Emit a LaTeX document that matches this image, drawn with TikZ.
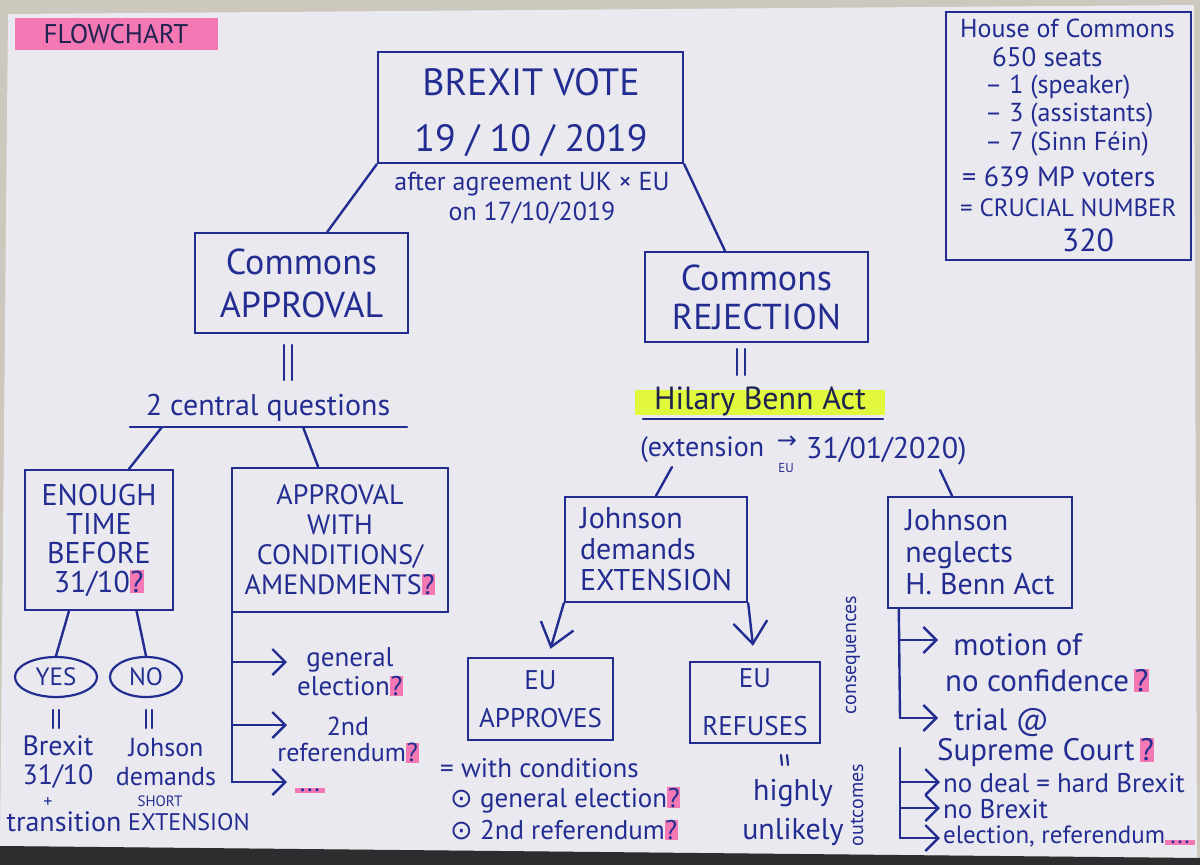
\documentclass[tikz,border=0pt]{standalone}
\usepackage{fontspec}
\setmainfont{PT Sans}
\newfontfamily\djv{DejaVu Sans}
\usetikzlibrary{calc,arrows.meta,shapes.geometric}
\definecolor{ink}{RGB}{35,45,145}
\definecolor{inkdark}{RGB}{30,35,80}
\definecolor{paper}{RGB}{234,233,239}
\definecolor{bggray}{RGB}{205,200,190}
\definecolor{darkband}{RGB}{45,45,48}
\definecolor{pinkhl}{RGB}{244,120,180}
\definecolor{limehl}{RGB}{225,248,60}
\newcommand{\myfs}[2]{\fontsize{#1}{#2}\selectfont}
\newcommand{\pq}{{\setlength{\fboxsep}{0.6pt}\colorbox{pinkhl}{?}}}
\newcommand{\pdots}{{\setlength{\fboxsep}{1pt}\colorbox{pinkhl}{\,...\,}}}
\begin{document}
\begin{tikzpicture}[x=1pt,y=-1pt,
  box/.style={draw=ink, line width=2.4pt, inner sep=0pt, align=center, text=ink},
  txt/.style={text=ink, inner sep=0pt, align=center},
  con/.style={draw=ink, line width=2.4pt, line cap=round},
  varr/.style={con, -{Straight Barb[length=13pt,width=26pt]}},
  bigv/.style={con, -{Straight Barb[length=22pt,width=34pt]}},
  tick/.style={draw=ink, line width=2.2pt, line cap=round}]
\useasboundingbox (0,0) rectangle (1200,865);
% background
\fill[bggray] (0,0) rectangle (1200,865);
\fill[paper] (8,14) -- (1194,5) -- (1197,858) -- (0,846) -- cycle;
\fill[darkband] (0,846) -- (1200,858) -- (1200,865) -- (0,865) -- cycle;

% title tag
\node[fill=pinkhl, text=inkdark, minimum width=203, minimum height=32, inner sep=0pt, font={\myfs{27}{28}}] (flow) at (116,34) {FLOWCHART};

% top box
\node[box, minimum width=305, minimum height=111] (vote) at (530.5,107.5) {};
\node[txt, font={\myfs{38}{56}}] (votetxt) at (531,113) {BREXIT VOTE\\19 / 10 / 2019};
\node[txt, font={\myfs{26}{30}}] (agree) at (532,198) {after agreement UK × EU\\on 17/10/2019};

% commons boxes
\node[box, minimum width=213, minimum height=100, font={\myfs{36}{43}}] (appr) at (301.5,283) {Commons\\APPROVAL};
\node[box, minimum width=223, minimum height=90, font={\myfs{36}{39}}] (rej) at (756.5,297) {Commons\\REJECTION};
\draw[con] (vote.south west) -- ($(appr.north west)!0.62!(appr.north east)$);
\draw[con] (vote.south east) -- ($(rej.north west)!0.36!(rej.north east)$);

\draw[tick] (284,345) -- (284,380); \draw[tick] (292,345) -- (292,380);
\draw[tick] (737,349) -- (737,375); \draw[tick] (745,349) -- (745,375);

% left branch
\node[txt, font={\myfs{30}{32}}] (cq) at (268,408) {2 central questions};
\draw[con] (130,427) -- (407,427);
\coordinate (cqL) at (162,427);
\coordinate (cqR) at (303,427);

\node[box, minimum width=148, minimum height=140, font={\myfs{30}{29}}] (enough) at (99,540) {ENOUGH\\TIME\\BEFORE\\31/10\pq};
\node[box, minimum width=216, minimum height=144, font={\myfs{28}{30}}] (apw) at (340,540) {APPROVAL\\WITH\\CONDITIONS/\\AMENDMENTS\pq};
\draw[con] (cqL) -- ($(enough.north west)!0.7!(enough.north east)$);
\draw[con] (cqR) -- ($(apw.north west)!0.4!(apw.north east)$);

\node[draw=ink, line width=2.2pt, ellipse, minimum width=82, minimum height=40, inner sep=0pt, text=ink, font={\myfs{25}{25}}] (yes) at (56,677) {YES};
\node[draw=ink, line width=2.2pt, ellipse, minimum width=72, minimum height=40, inner sep=0pt, text=ink, font={\myfs{25}{25}}] (no) at (146,677) {NO};
\draw[con] ($(enough.south west)!0.3!(enough.south east)$) -- (yes.north);
\draw[con] ($(enough.south west)!0.75!(enough.south east)$) -- (no.north);
\draw[tick] (53,710) -- (53,728); \draw[tick] (59,710) -- (59,728);
\draw[tick] (146,710) -- (146,728); \draw[tick] (152,710) -- (152,728);

\node[txt, font={\myfs{28}{29}}] (brx) at (58,762) {Brexit\\31/10};
\node[txt, font={\myfs{18}{18}}] (plus) at (48,802) {+};
\node[txt, font={\myfs{28}{28}}] (trans) at (64,822) {transition};
\node[txt, font={\myfs{26}{29}}] (joh) at (166,762) {Johson\\demands};
\node[txt, font={\myfs{15}{15}}] (short) at (160,801) {SHORT};
\node[txt, font={\myfs{24}{24}}] (ext1) at (189,822) {EXTENSION};

% approval with conditions branches
\coordinate (av0) at (232,612);
\coordinate (av1) at (232,662);
\coordinate (av2) at (232,725);
\coordinate (av3) at (232,782);
\coordinate (t1) at (287,662);
\coordinate (t2) at (287,725);
\coordinate (t3) at (287,782);
\draw[con] (av0) -- (av3);
\draw[varr] (av1) -- (t1);
\draw[varr] (av2) -- (t2);
\draw[varr] (av3) -- (t3);
\node[txt, font={\myfs{27}{29}}] (ge) at (350,672) {general\\election\pq};
\node[txt, font={\myfs{26}{26}}] (ref) at (348,740) {2nd\\referendum\pq};
\node[txt, font={\myfs{26}{26}}] (more) at (310,790) {\pdots};

% EU approves text
\node[txt, anchor=west, font={\myfs{27}{28}}] (wc) at (440,768) {= with conditions};
\node[txt, anchor=west, font={\myfs{27}{28}}] (o1) at (450,800) {{\djv ⊙} general election\pq};
\node[txt, anchor=west, font={\myfs{27}{28}}] (o2) at (450,830) {{\djv ⊙} 2nd referendum\pq};

% right branch
\fill[limehl] (635,390) rectangle (885,415);
\node[txt, text=inkdark, font={\myfs{32}{32}}] (hba) at (760,401) {Hilary Benn Act};
\draw[con] (643,419) -- (883,419);
\node[txt, anchor=west, font={\myfs{28}{28}}] (ex1) at (640,450) {(extension};
\node[txt, font={\myfs{24}{24}\djv}] (exarr) at (787,442) {→};
\node[txt, font={\myfs{13}{13}}] (exeu) at (786,468) {EU};
\node[txt, anchor=west, font={\myfs{30}{30}}] (ex2) at (806,451) {31/01/2020)};
\coordinate (exL) at (672,467);
\coordinate (exR) at (940,470);

\node[box, minimum width=182, minimum height=105, align=left, font={\myfs{30}{31}}] (dem) at (656,549.5) {Johnson\\demands\\EXTENSION};
\node[box, minimum width=184, minimum height=111, align=left, font={\myfs{30}{32}}] (neg) at (980,552.5) {Johnson\\neglects\\H. Benn Act};
\draw[con] (exL) -- (dem.north);
\draw[con] (exR) -- ($(neg.north west)!0.35!(neg.north east)$);

\node[box, minimum width=145, minimum height=82, font={\myfs{27}{38}}] (appv) at (540.5,699) {EU\\APPROVES};
\node[box, minimum width=130, minimum height=81, font={\myfs{27}{48}}] (refu) at (755,702.5) {EU\\REFUSES};
\draw[bigv] (dem.south west) -- ([xshift=10pt,yshift=8pt]appv.north);
\draw[bigv] (dem.south east) -- ([xshift=-2pt,yshift=15pt]refu.north);
\draw[tick] (781,755) -- (782,765); \draw[tick] (787,755) -- (788,765);
\node[txt, font={\myfs{30}{39}}] (hu) at (793,812) {highly\\unlikely};

% consequences
\coordinate (cs) at ($(neg.south west)+(12,0)$);
\coordinate (ce) at (900,718);
\coordinate (c1) at (900,640);
\coordinate (ct1) at (938,640);
\coordinate (ct2) at (938,718);
\draw[con] (cs) -- (ce);
\draw[varr] (c1) -- (ct1);
\draw[varr] (ce) -- (ct2);
\node[txt, anchor=west, align=left, font={\myfs{31}{36}}] (mo) at (945,663) {\ motion of\\no confidence\,\pq};
\node[txt, anchor=west, align=left, font={\myfs{31}{30}}] (tr) at (937,738) {\ \ trial @\\Supreme Court\,\pq};
\node[txt, rotate=90, font={\myfs{20}{20}}] (csq) at (853,655) {consequences};

% outcomes
\coordinate (os) at (900,748);
\coordinate (oe) at (900,838);
\coordinate (o1s) at (900,782);
\coordinate (o2s) at (900,808);
\coordinate (ot1) at (940,782);
\coordinate (ot2) at (940,808);
\coordinate (ot3) at (940,838);
\draw[con] (os) -- (oe);
\draw[varr] (o1s) -- (ot1);
\draw[varr] (o2s) -- (ot2);
\draw[varr] (oe) -- (ot3);
\node[txt, anchor=west, font={\myfs{27}{27}}] (nd) at (943,783) {no deal = hard Brexit};
\node[txt, anchor=west, font={\myfs{27}{27}}] (nb) at (943,809) {no Brexit};
\node[txt, anchor=west, font={\myfs{25}{25}}] (er) at (943,837) {election, referendum\pdots};
\node[txt, rotate=90, font={\myfs{20}{20}}] (oc) at (857,805) {outcomes};

% House of Commons
\node[box, minimum width=245, minimum height=248] (hoc) at (1068.5,136) {};
\node[txt, anchor=west, font={\myfs{26}{26}}] (h1) at (960,28) {House of Commons};
\node[txt, anchor=west, font={\myfs{27}{27}}] (h2) at (992,57) {650 seats};
\node[txt, anchor=west, font={\myfs{26}{26}}] (h3) at (985,87) {– 1 (speaker)};
\node[txt, anchor=west, font={\myfs{26}{26}}] (h4) at (985,115) {– 3 (assistants)};
\node[txt, anchor=west, font={\myfs{26}{26}}] (h5) at (985,144) {– 7 (Sinn Féin)};
\node[txt, anchor=west, font={\myfs{28}{28}}] (h6) at (962,177) {= 639 MP voters};
\node[txt, anchor=west, font={\myfs{25}{25}}] (h7) at (960,208) {= CRUCIAL NUMBER};
\node[txt, font={\myfs{32}{32}}] (h8) at (1088,240) {320};
\end{tikzpicture}
\end{document}
